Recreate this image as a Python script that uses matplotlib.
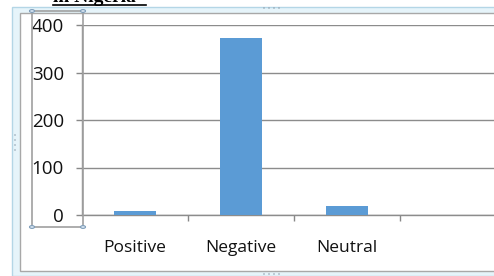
import matplotlib.pyplot as plt
from matplotlib.patches import Rectangle, Circle
from matplotlib.lines import Line2D

# Data
categories = ['Positive', 'Negative', 'Neutral']
counts = [8, 372, 19]
y_ticks = [0, 100, 200, 300, 400]

W, H = 494, 276
fig = plt.figure(figsize=(W / 100, H / 100), dpi=100)
plt.rcParams['font.family'] = ['Open Sans', 'DejaVu Sans']


def fx(x):
    return x / W


def fy(y):
    return 1 - y / H


# Word-like chart frame
fig.patches.append(Rectangle((fx(12), fy(276)), fx(500) - fx(12), fy(7) - fy(276),
                             transform=fig.transFigure, facecolor='#e6f4fa',
                             edgecolor='#b4d6e6', lw=1, zorder=-2))
fig.patches.append(Rectangle((fx(20), fy(271)), fx(500) - fx(20), fy(13) - fy(271),
                             transform=fig.transFigure, facecolor='white',
                             edgecolor='#a8a8a8', lw=1, zorder=-1))

# Plot area
ax = fig.add_axes([fx(82), fy(215), fx(506) - fx(82), fy(25) - fy(215)])
ax.set_zorder(3)
ax.set_facecolor('none')
x = list(range(len(categories)))
ax.bar(x, counts, width=0.4, color='#5b9bd5', zorder=3)
ax.set_xlim(-0.5, 3.5)
ax.set_ylim(0, 400)
ax.set_yticks(y_ticks)
ax.set_yticklabels([str(v) for v in y_ticks], fontsize=13.5, color='#111111')
ax.set_xticks(x)
ax.set_xticklabels(categories, fontsize=12.5, color='#111111')
ax.set_xticks([0.5, 1.5, 2.5, 3.5], minor=True)
ax.tick_params(axis='x', which='major', length=0, pad=18)
ax.tick_params(axis='x', which='minor', length=4, color='#888888', width=1)
ax.tick_params(axis='y', length=4, color='#888888', width=1, pad=9)
ax.grid(axis='y', color='#8c8c8c', lw=1, zorder=1)
for side in ['top', 'right']:
    ax.spines[side].set_visible(False)
for side in ['left', 'bottom']:
    ax.spines[side].set_color('#8c8c8c')
    ax.spines[side].set_linewidth(1)

# Selection box around the value axis
fig.patches.append(Rectangle((fx(32), fy(227)), fx(83) - fx(32), fy(11) - fy(227),
                             transform=fig.transFigure, facecolor='none',
                             edgecolor='#a0a0a0', lw=1.2, zorder=5))
for (px, py) in [(32, 11), (83, 11), (32, 227), (83, 227)]:
    fig.patches.append(Circle((fx(px), fy(py)), 2.5 / W, transform=fig.transFigure,
                              facecolor='#dce9f5', edgecolor='#7f9db9', lw=0.8, zorder=6))

# Resize handle dots
for i in range(4):
    fig.patches.append(Circle((fx(264 + i * 5), fy(8)), 1.0 / W, transform=fig.transFigure,
                              facecolor='#8a9aa8', edgecolor='none'))
    fig.patches.append(Circle((fx(264 + i * 5), fy(274)), 1.0 / W, transform=fig.transFigure,
                              facecolor='#8a9aa8', edgecolor='none'))
    fig.patches.append(Circle((fx(15), fy(135 + i * 5)), 1.0 / W, transform=fig.transFigure,
                              facecolor='#8a9aa8', edgecolor='none'))

# Cut-off title
fig.text(fx(53), fy(2), 'in Nigeria', fontsize=14, fontweight='bold',
         family='Liberation Serif', ha='left', va='baseline', color='black')
fig.lines.append(Line2D([fx(53), fx(146)], [fy(5), fy(5)], transform=fig.transFigure,
                        color='black', lw=1.2))

fig.savefig('out.png', dpi=100)
